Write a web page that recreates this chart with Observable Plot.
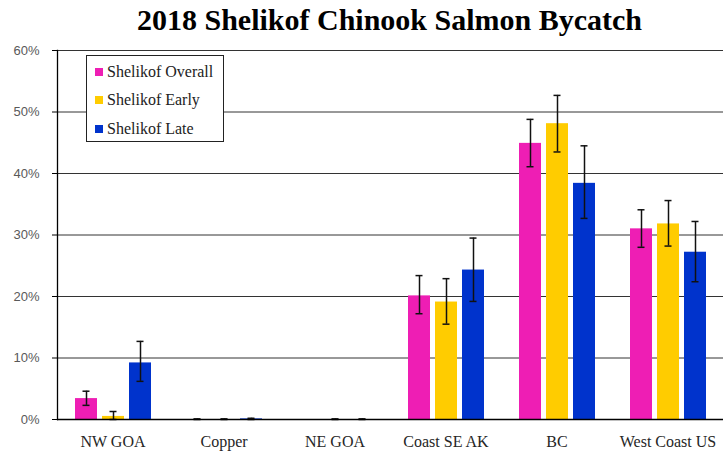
<!DOCTYPE html>
<html>
<head>
<meta charset="utf-8">
<script src="https://cdn.jsdelivr.net/npm/d3@7"></script>
<script src="https://cdn.jsdelivr.net/npm/@observablehq/plot@0.6"></script>
<style>
  html, body { margin: 0; padding: 0; background: #fff; }
  #wrap { position: relative; width: 725px; height: 454px; overflow: hidden; }
  #title { height: 40px; line-height: 40px; width: 725px; padding-left: 54px; box-sizing: border-box;
           text-align: center; font-family: "Liberation Serif", serif; font-weight: bold; font-size: 30px; color: #000; }
  #legend { position: absolute; left: 86px; top: 55px; width: 138px; height: 87px; box-sizing: border-box;
            border: 1px solid #222; background: #fff; font-family: "Liberation Serif", serif; font-size: 16px; color: #222; }
  .item { position: absolute; left: 8px; height: 20px; line-height: 20px; white-space: nowrap; }
  .sw { display: inline-block; width: 8px; height: 8px; margin-right: 4px; vertical-align: 1px; }
</style>
</head>
<body>
<div id="wrap">
  <div id="title">2018 Shelikof Chinook Salmon Bycatch</div>
  <div id="chart"></div>
  <div id="legend"></div>
</div>
<script>
const categories = ["NW GOA", "Copper", "NE GOA", "Coast SE AK", "BC", "West Coast US"];
const series = ["Shelikof Overall", "Shelikof Early", "Shelikof Late"];
const colors = ["#ee1eb4", "#ffcc00", "#0033cc"];

const overall   = [3.4, 0, 0, 20.1, 44.9, 31.0];
const overallLo = [2.3, 0, null, 17.2, 41.1, 28.0];
const overallHi = [4.6, 0.1, null, 23.4, 48.8, 34.1];

const early   = [0.5, 0, 0, 19.1, 48.1, 31.8];
const earlyLo = [0, 0, 0, 15.5, 43.5, 28.2];
const earlyHi = [1.3, 0.1, 0.1, 22.9, 52.7, 35.6];

const late   = [9.2, 0.1, 0, 24.3, 38.4, 27.2];
const lateLo = [6.2, 0, 0, 19.2, 32.7, 22.4];
const lateHi = [12.7, 0.2, 0.1, 29.5, 44.5, 32.2];

const yTicks = [0, 10, 20, 30, 40, 50, 60];

const vals = [overall, early, late];
const los = [overallLo, earlyLo, lateLo];
const his = [overallHi, earlyHi, lateHi];

const data = [];
categories.forEach((c, i) => {
  series.forEach((s, j) => {
    data.push({category: c, series: s, value: vals[j][i], lo: los[j][i], hi: his[j][i]});
  });
});
const errData = data.filter(d => d.lo != null && d.hi != null);

const plot = Plot.plot({
  width: 725,
  height: 414,
  marginTop: 10,
  marginBottom: 35,
  marginLeft: 54,
  marginRight: 0,
  style: {fontFamily: "Liberation Serif, serif", fontSize: "16px", background: "#fff"},
  fx: {domain: categories, padding: 0, label: null},
  x: {domain: series, paddingInner: 0.2, paddingOuter: 0.6, axis: null},
  y: {domain: [0, 60], label: null},
  color: {domain: series, range: colors},
  marks: [
    Plot.ruleY(yTicks.filter(d => d > 0), {stroke: "#333", strokeWidth: 1}),
    Plot.barY(data, {fx: "category", x: "series", y: "value", fill: "series"}),
    Plot.ruleX(errData, {fx: "category", x: "series", y1: "lo", y2: "hi", stroke: "#111", strokeWidth: 1.5}),
    Plot.tickY(errData, {fx: "category", x: "series", y: "lo", stroke: "#111", strokeWidth: 1.5, insetLeft: 7.5, insetRight: 7.5}),
    Plot.tickY(errData, {fx: "category", x: "series", y: "hi", stroke: "#111", strokeWidth: 1.5, insetLeft: 7.5, insetRight: 7.5}),
    Plot.ruleY([0], {stroke: "#000", strokeWidth: 1.3}),
    Plot.frame({anchor: "left", facetAnchor: "left", stroke: "#000", strokeWidth: 1.3}),
    Plot.axisY({ticks: yTicks, tickSize: 5, tickPadding: 13, tickFormat: d => d + "%",
                fontFamily: "Liberation Sans, sans-serif", fontSize: 13, fill: "#595959", stroke: "#000", label: null}),
    Plot.axisFx({anchor: "bottom", tickSize: 0, tickPadding: 16, fontSize: 16, fill: "#262626", label: null})
  ]
});
document.getElementById("chart").appendChild(plot);

const legend = document.getElementById("legend");
const rowTops = [6, 34, 63];
series.forEach((s, j) => {
  const it = document.createElement("div");
  it.className = "item";
  it.style.top = rowTops[j] + "px";
  it.innerHTML = `<span class="sw" style="background:${colors[j]}"></span>${s}`;
  legend.appendChild(it);
});
</script>
</body>
</html>
